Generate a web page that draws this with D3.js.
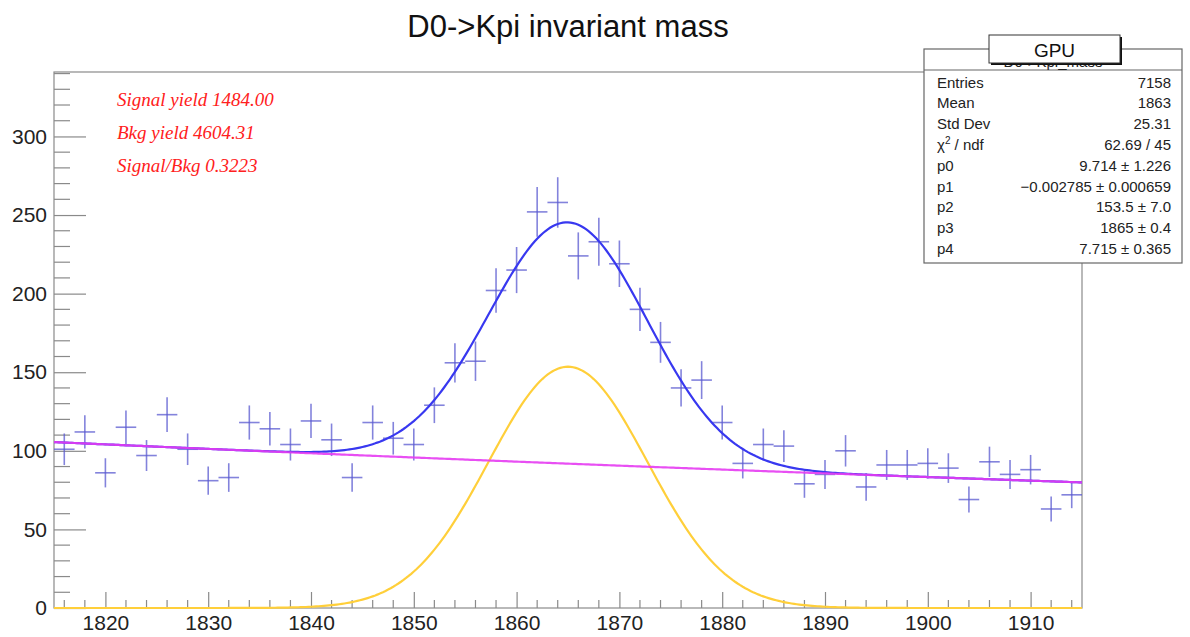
<!DOCTYPE html>
<html>
<head>
<meta charset="utf-8">
<script src="https://cdn.jsdelivr.net/npm/d3@7/dist/d3.min.js"></script>
<style>
  html, body { margin: 0; padding: 0; background: #fff; }
  svg { display: block; font-family: "Liberation Sans", Arial, Helvetica, sans-serif; }
</style>
</head>
<body>
<div id="chart"></div>
<script>
// histogram bins (centres, width 2 MeV) and counts
const binCenters = d3.range(1816, 1915, 2);
const binCounts = [
  101, 112, 86, 115, 97, 123, 101, 81, 83, 118,
  114, 104, 119, 107, 83, 118, 108, 104, 129, 156,
  157, 202, 215, 252, 258, 224, 233, 219, 190, 169,
  140, 145, 118, 92, 104, 103, 79, 85, 100, 77,
  91, 91, 92, 89, 69, 93, 85, 88, 63, 72
];

// fit parameters: exp(p0 + p1*x) + p2*gaus(p3, p4)
const fitParams = [9.714, -0.002785, 153.5, 1865, 7.715];

const xTicks = [1820, 1830, 1840, 1850, 1860, 1870, 1880, 1890, 1900, 1910];
const yTicks = [0, 50, 100, 150, 200, 250, 300];

const yieldLines = ['Signal yield 1484.00', 'Bkg yield 4604.31', 'Signal/Bkg 0.3223'];

const statLabels = ['Entries', 'Mean', 'Std Dev', 'chi2', 'p0', 'p1', 'p2', 'p3', 'p4'];
const statValues = ['7158', '1863', '25.31', '62.69 / 45', '9.714 \u00b1 1.226',
  '\u22120.002785 \u00b1 0.000659', '153.5 \u00b1 7.0', '1865 \u00b1 0.4', '7.715 \u00b1 0.365'];

(function () {
  const W = 1190, H = 637;
  const frame = { left: 54, right: 1082, top: 72, bottom: 608 };
  const axisColor = '#8a8a8a';
  const textColor = '#222';

  const svg = d3.select('#chart').append('svg')
    .attr('width', W)
    .attr('height', H);

  const x = d3.scaleLinear().domain([1815, 1915]).range([frame.left, frame.right]);
  const y = d3.scaleLinear().domain([0, 341]).range([frame.bottom, frame.top]);

  // title
  svg.append('text')
    .attr('x', 568)
    .attr('y', 37)
    .attr('text-anchor', 'middle')
    .attr('font-size', 31)
    .attr('fill', '#111')
    .text('D0->Kpi invariant mass');

  // frame
  svg.append('rect')
    .attr('x', frame.left)
    .attr('y', frame.top)
    .attr('width', frame.right - frame.left)
    .attr('height', frame.bottom - frame.top)
    .attr('fill', 'none')
    .attr('stroke', axisColor)
    .attr('stroke-width', 1.2);

  // y axis: major + minor ticks drawn inward
  const yAxis = d3.axisLeft(y)
    .tickValues(yTicks)
    .tickSize(-32)
    .tickPadding(7)
    .tickFormat(d3.format('d'));
  const yG = svg.append('g')
    .attr('transform', `translate(${frame.left},0)`)
    .call(yAxis);
  yG.select('.domain').remove();
  yG.selectAll('.tick line').attr('stroke', axisColor).attr('stroke-width', 1.2);
  yG.selectAll('.tick text')
    .attr('font-size', 21)
    .attr('fill', textColor)
    .attr('font-family', '"Liberation Sans", Arial, sans-serif');

  const yMinor = d3.range(10, 341, 10).filter(v => v % 50 !== 0);
  svg.append('g').selectAll('line')
    .data(yMinor)
    .join('line')
    .attr('x1', frame.left)
    .attr('x2', frame.left + 16)
    .attr('y1', d => y(d))
    .attr('y2', d => y(d))
    .attr('stroke', axisColor)
    .attr('stroke-width', 1.2);

  // x axis
  const xAxis = d3.axisBottom(x)
    .tickValues(xTicks)
    .tickSize(-16)
    .tickPadding(7)
    .tickFormat(d3.format('d'));
  const xG = svg.append('g')
    .attr('transform', `translate(0,${frame.bottom})`)
    .call(xAxis);
  xG.select('.domain').remove();
  xG.selectAll('.tick line').attr('stroke', axisColor).attr('stroke-width', 1.2);
  xG.selectAll('.tick text')
    .attr('font-size', 21)
    .attr('fill', textColor)
    .attr('font-family', '"Liberation Sans", Arial, sans-serif');

  const xMinor = d3.range(1816, 1915, 2).filter(v => v % 10 !== 0);
  svg.append('g').selectAll('line')
    .data(xMinor)
    .join('line')
    .attr('x1', d => x(d))
    .attr('x2', d => x(d))
    .attr('y1', frame.bottom)
    .attr('y2', frame.bottom - 8)
    .attr('stroke', axisColor)
    .attr('stroke-width', 1.2);

  // data points with sqrt(N) errors
  const pts = binCenters.map((c, i) => ({ c, n: binCounts[i], e: Math.sqrt(binCounts[i]) }));
  const ptG = svg.append('g')
    .attr('stroke', '#5a5ad0')
    .attr('stroke-opacity', 0.75)
    .attr('stroke-width', 1.6);
  ptG.selectAll('line.h')
    .data(pts)
    .join('line')
    .attr('class', 'h')
    .attr('x1', d => x(d.c - 1))
    .attr('x2', d => x(d.c + 1))
    .attr('y1', d => y(d.n))
    .attr('y2', d => y(d.n));
  ptG.selectAll('line.v')
    .data(pts)
    .join('line')
    .attr('class', 'v')
    .attr('x1', d => x(d.c))
    .attr('x2', d => x(d.c))
    .attr('y1', d => y(d.n - d.e))
    .attr('y2', d => y(d.n + d.e));

  // fit curves
  const [p0, p1, p2, p3, p4] = fitParams;
  const bkg = m => Math.exp(p0 + p1 * m);
  const sig = m => p2 * Math.exp(-0.5 * Math.pow((m - p3) / p4, 2));
  const grid = d3.range(1815, 1915.01, 0.25);

  const line = d3.line().x(d => x(d[0])).y(d => y(d[1]));

  svg.append('path')
    .datum(grid.map(m => [m, sig(m)]))
    .attr('d', line)
    .attr('fill', 'none')
    .attr('stroke', '#ffcf3a')
    .attr('stroke-width', 2.2);

  svg.append('path')
    .datum(grid.map(m => [m, bkg(m) + sig(m)]))
    .attr('d', line)
    .attr('fill', 'none')
    .attr('stroke', '#3838f0')
    .attr('stroke-width', 2.2);

  svg.append('path')
    .datum(grid.map(m => [m, bkg(m)]))
    .attr('d', line)
    .attr('fill', 'none')
    .attr('stroke', '#e63cf2')
    .attr('stroke-opacity', 0.9)
    .attr('stroke-width', 2.2);

  // yield annotations
  svg.append('g').selectAll('text')
    .data(yieldLines)
    .join('text')
    .attr('x', 117)
    .attr('y', (d, i) => 106 + i * 33)
    .attr('font-family', '"Liberation Serif", "Times New Roman", serif')
    .attr('font-style', 'italic')
    .attr('font-size', 19)
    .attr('fill', '#ff2020')
    .text(d => d);

  // stats box
  const box = { x0: 924, x1: 1182, y0: 49, y1: 263 };
  const stats = svg.append('g');
  stats.append('rect')
    .attr('x', box.x0)
    .attr('y', box.y0)
    .attr('width', box.x1 - box.x0)
    .attr('height', box.y1 - box.y0)
    .attr('fill', '#fff')
    .attr('stroke', '#666')
    .attr('stroke-width', 1.2);
  stats.append('line')
    .attr('x1', box.x0)
    .attr('x2', box.x1)
    .attr('y1', 70)
    .attr('y2', 70)
    .attr('stroke', '#666')
    .attr('stroke-width', 1.2);

  // histogram name, mostly hidden behind the GPU label
  svg.append('clipPath')
    .attr('id', 'nameClip')
    .append('rect')
    .attr('x', box.x0)
    .attr('y', 65)
    .attr('width', box.x1 - box.x0)
    .attr('height', 5);
  stats.append('text')
    .attr('x', (box.x0 + box.x1) / 2)
    .attr('y', 67)
    .attr('text-anchor', 'middle')
    .attr('font-size', 15)
    .attr('fill', textColor)
    .attr('clip-path', 'url(#nameClip)')
    .text('D0->Kpi_mass');

  const rowY = i => 87.5 + i * 20.8;
  stats.selectAll('text.lab')
    .data(statLabels)
    .join('text')
    .attr('class', 'lab')
    .attr('x', 937)
    .attr('y', (d, i) => rowY(i))
    .attr('font-size', 15)
    .attr('fill', textColor)
    .each(function (d) {
      const t = d3.select(this);
      if (d === 'chi2') {
        t.append('tspan').text('\u03c7');
        t.append('tspan').attr('font-size', 10).attr('dy', -6).text('2');
        t.append('tspan').attr('dy', 6).text(' / ndf');
      } else {
        t.text(d);
      }
    });
  stats.selectAll('text.val')
    .data(statValues)
    .join('text')
    .attr('class', 'val')
    .attr('x', 1171)
    .attr('y', (d, i) => rowY(i))
    .attr('text-anchor', 'end')
    .attr('font-size', 15)
    .attr('fill', textColor)
    .text(d => d);

  // "GPU" legend label with shadow
  const lab = svg.append('g');
  lab.append('rect')
    .attr('x', 991)
    .attr('y', 37)
    .attr('width', 131)
    .attr('height', 28)
    .attr('fill', '#111');
  lab.append('rect')
    .attr('x', 989)
    .attr('y', 35)
    .attr('width', 131)
    .attr('height', 28)
    .attr('fill', '#fff')
    .attr('stroke', '#333')
    .attr('stroke-width', 1);
  lab.append('text')
    .attr('x', 1054.5)
    .attr('y', 57)
    .attr('text-anchor', 'middle')
    .attr('font-size', 19)
    .attr('fill', '#111')
    .text('GPU');
})();
</script>
</body>
</html>
